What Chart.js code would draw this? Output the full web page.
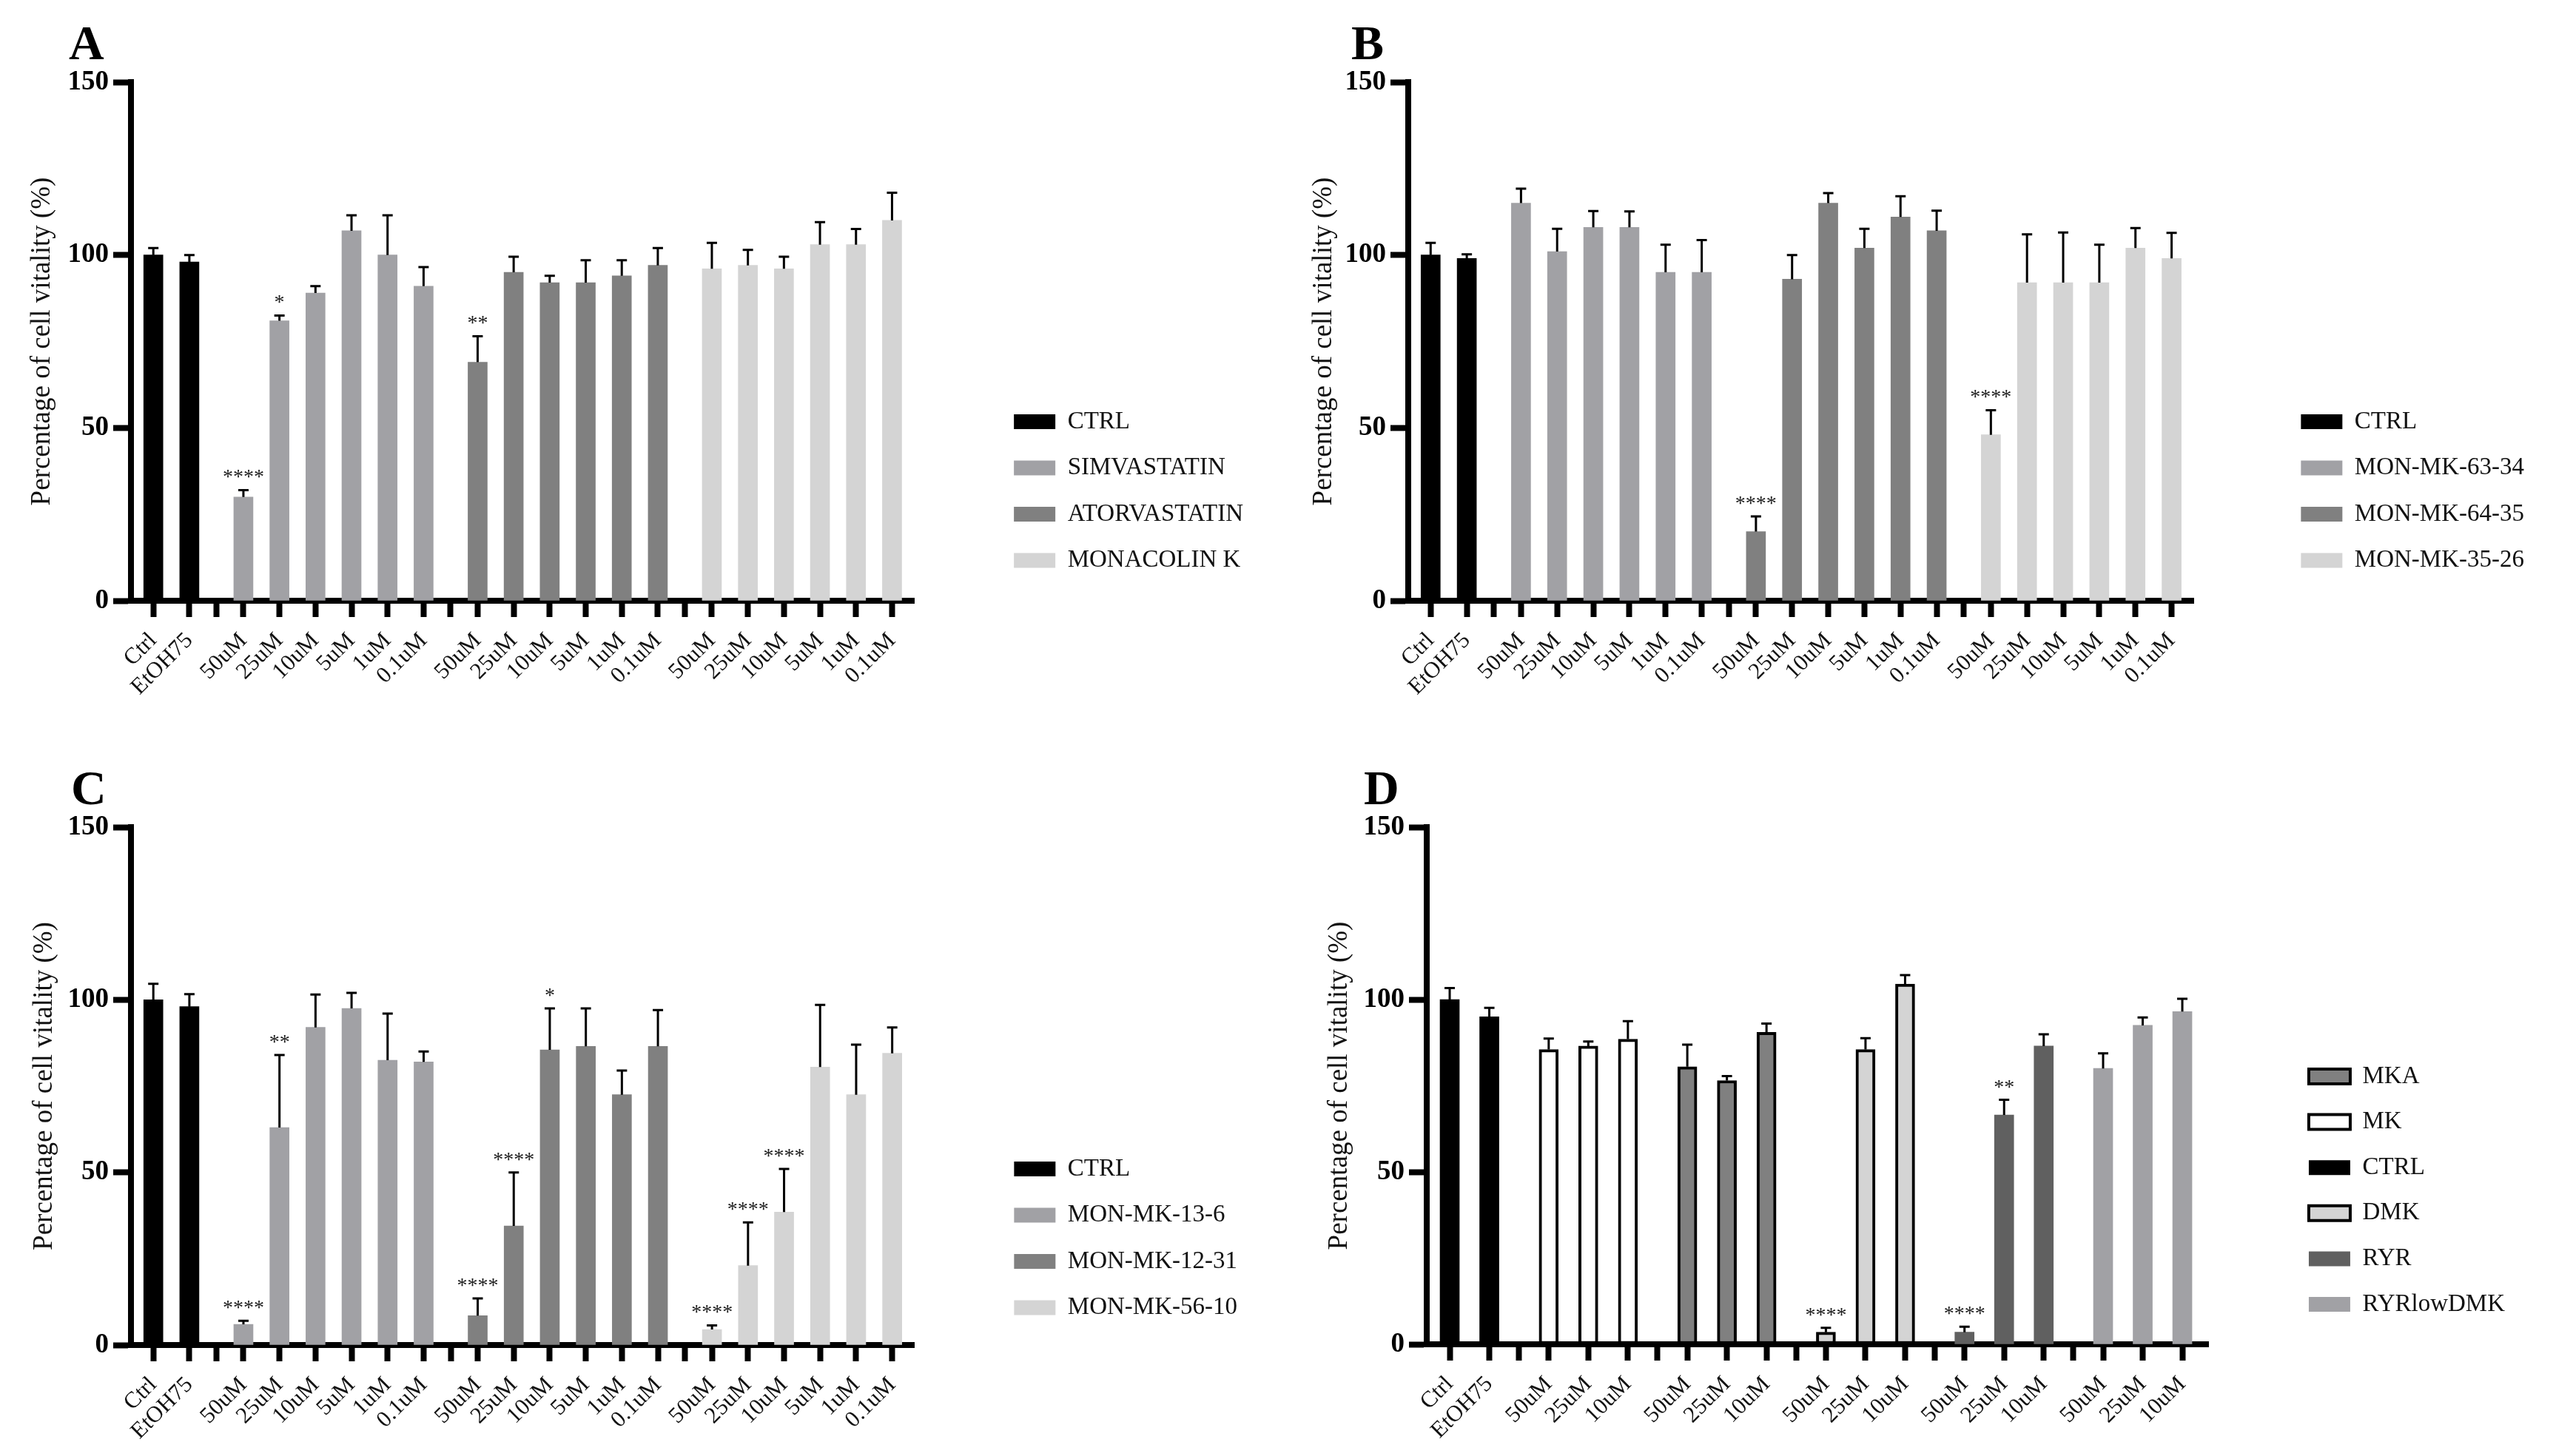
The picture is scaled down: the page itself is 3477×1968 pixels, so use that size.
<!DOCTYPE html>
<html>
<head>
<meta charset="utf-8">
<script src="https://cdn.jsdelivr.net/npm/chart.js@4.4.1/dist/chart.umd.min.js"></script>
<style>
  html, body { margin: 0; padding: 0; background: #ffffff; }
  body { width: 3477px; height: 1968px; position: relative; overflow: hidden; }
  canvas { position: absolute; display: block; }
</style>
</head>
<body>
<canvas id="cA" width="1738" height="984" style="left:0px;top:0px"></canvas>
<canvas id="cB" width="1739" height="984" style="left:1738px;top:0px"></canvas>
<canvas id="cC" width="1738" height="984" style="left:0px;top:984px"></canvas>
<canvas id="cD" width="1739" height="984" style="left:1738px;top:984px"></canvas>
<script>
// ---------------- DATA ----------------
const yTicks = [0, 50, 100, 150];
const yTitle = 'Percentage of cell vitality (%)';

// Panel A
const catsA = ['Ctrl', 'EtOH75', '', '50uM', '25uM', '10uM', '5uM', '1uM', '0.1uM', '', '50uM', '25uM', '10uM', '5uM', '1uM', '0.1uM', '', '50uM', '25uM', '10uM', '5uM', '1uM', '0.1uM'];
const namesA = ['CTRL', 'SIMVASTATIN', 'ATORVASTATIN', 'MONACOLIN K'];
const ctrlA = [100, 98];                     const ctrlErrA = [2, 2];                        const ctrlSigA = ['', ''];
const simvaA = [30, 81, 89, 107, 100, 91];   const simvaErrA = [2, 1.5, 2, 4.5, 11.5, 5.5];  const simvaSigA = ['****', '*', '', '', '', ''];
const atorA = [69, 95, 92, 92, 94, 97];      const atorErrA = [7.5, 4.5, 2, 6.5, 4.5, 5];    const atorSigA = ['**', '', '', '', '', ''];
const monaA = [96, 97, 96, 103, 103, 110];   const monaErrA = [7.5, 4.5, 3.5, 6.5, 4.5, 8];  const monaSigA = ['', '', '', '', '', ''];

// Panel B
const catsB = catsA;
const namesB = ['CTRL', 'MON-MK-63-34', 'MON-MK-64-35', 'MON-MK-35-26'];
const ctrlB = [100, 99];                      const ctrlErrB = [3.5, 1.2];                       const ctrlSigB = ['', ''];
const mk6334B = [115, 101, 108, 108, 95, 95]; const mk6334ErrB = [4.2, 6.6, 4.7, 4.6, 8, 9.3];   const mk6334SigB = ['', '', '', '', '', ''];
const mk6435B = [20, 93, 115, 102, 111, 107]; const mk6435ErrB = [4.4, 7, 2.9, 5.6, 6, 5.8];     const mk6435SigB = ['****', '', '', '', '', ''];
const mk3526B = [48, 92, 92, 92, 102, 99];    const mk3526ErrB = [7.1, 14, 14.5, 11, 5.8, 7.4];  const mk3526SigB = ['****', '', '', '', '', ''];

// Panel C
const catsC = catsA;
const namesC = ['CTRL', 'MON-MK-13-6', 'MON-MK-12-31', 'MON-MK-56-10'];
const ctrlC = [100, 98];                            const ctrlErrC = [4.6, 3.6];                         const ctrlSigC = ['', ''];
const mk136C = [6, 63, 92, 97.5, 82.5, 82];         const mk136ErrC = [1, 21, 9.5, 4.5, 13.5, 3];        const mk136SigC = ['****', '**', '', '', '', ''];
const mk1231C = [8.5, 34.5, 85.5, 86.5, 72.5, 86.5]; const mk1231ErrC = [5, 15.5, 12, 11, 7, 10.5];      const mk1231SigC = ['****', '****', '*', '', '', ''];
const mk5610C = [4.5, 23, 38.5, 80.5, 72.5, 84.5];  const mk5610ErrC = [1.2, 12.5, 12.5, 18, 14.5, 7.5]; const mk5610SigC = ['****', '****', '****', '', '', ''];

// Panel D
const catsD = ['Ctrl', 'EtOH75', '', '50uM', '25uM', '10uM', '', '50uM', '25uM', '10uM', '', '50uM', '25uM', '10uM', '', '50uM', '25uM', '10uM', '', '50uM', '25uM', '10uM'];
const namesD = ['CTRL', 'MK', 'MKA', 'DMK', 'RYR', 'RYRlowDMK'];          // order along the axis
const legendD = ['MKA', 'MK', 'CTRL', 'DMK', 'RYR', 'RYRlowDMK'];        // order in the legend
const ctrlD = [100, 95];          const ctrlErrD = [3.3, 2.6];       const ctrlSigD = ['', ''];
const mkD = [85.5, 86.5, 88.5];   const mkErrD = [3.2, 1.3, 5.2];    const mkSigD = ['', '', ''];
const mkaD = [80.5, 76.5, 90.5];  const mkaErrD = [6.4, 1.3, 2.5];   const mkaSigD = ['', '', ''];
const dmkD = [3.5, 85.5, 104.5];  const dmkErrD = [1.3, 3.3, 2.6];   const dmkSigD = ['****', '', ''];
const ryrD = [3.5, 66.5, 86.5];   const ryrErrD = [1.6, 4.4, 3.4];   const ryrSigD = ['****', '**', ''];
const ryrLowD = [80, 92.5, 96.5]; const ryrLowErrD = [4.4, 2.3, 3.7]; const ryrLowSigD = ['', '', ''];

// ---------------- STYLE ----------------
const SERIF = '"Liberation Serif", "Times New Roman", serif';
const LEG_FONT = 33, LEG_BOX = 56;
const COL = {
  CTRL: { bg: '#000000', bd: '#000000', bw: 0 },
  SIMVASTATIN: { bg: '#a1a1a5', bd: '#a1a1a5', bw: 0 },
  ATORVASTATIN: { bg: '#808080', bd: '#808080', bw: 0 },
  'MONACOLIN K': { bg: '#d4d4d4', bd: '#d4d4d4', bw: 0 },
  'MON-MK-63-34': { bg: '#a1a1a5', bd: '#a1a1a5', bw: 0 },
  'MON-MK-64-35': { bg: '#808080', bd: '#808080', bw: 0 },
  'MON-MK-35-26': { bg: '#d4d4d4', bd: '#d4d4d4', bw: 0 },
  'MON-MK-13-6': { bg: '#a1a1a5', bd: '#a1a1a5', bw: 0 },
  'MON-MK-12-31': { bg: '#808080', bd: '#808080', bw: 0 },
  'MON-MK-56-10': { bg: '#d4d4d4', bd: '#d4d4d4', bw: 0 },
  MK: { bg: '#ffffff', bd: '#000000', bw: 4 },
  MKA: { bg: '#808080', bd: '#000000', bw: 4 },
  DMK: { bg: '#d4d4d4', bd: '#000000', bw: 4 },
  RYR: { bg: '#606060', bd: '#606060', bw: 0 },
  RYRlowDMK: { bg: '#a1a1a5', bd: '#a1a1a5', bw: 0 }
};

// x position of each category; an empty entry is a half-width gap with its own tick
function xPositions(cats) {
  const out = [];
  let x = -1, gap = false;
  cats.forEach(c => {
    if (c === '') { out.push(x + 0.75); gap = true; }
    else { x += gap ? 1.5 : 1; gap = false; out.push(x); }
  });
  return out;
}

const measureCtx = document.createElement('canvas').getContext('2d');
function legendWidth(labels, pad) {
  measureCtx.font = LEG_FONT + 'px ' + SERIF;
  const w = Math.max(...labels.map(t => measureCtx.measureText(t).width));
  return Math.ceil(pad + LEG_BOX + LEG_FONT / 2 + w + 10) + 2;
}

const errorBarPlugin = {
  id: 'errorBars',
  afterDatasetsDraw(chart, args, opts) {
    const ctx = chart.ctx;
    const ys = chart.scales.y;
    chart.data.datasets.forEach((ds, di) => {
      const meta = chart.getDatasetMeta(di);
      if (meta.hidden) return;
      meta.data.forEach((bar, i) => {
        const v = ds.data[i].y;
        const top = ys.getPixelForValue(v + ds.errors[i]);
        ctx.save();
        ctx.strokeStyle = '#000';
        ctx.lineWidth = opts.lineWidth;
        ctx.beginPath();
        ctx.moveTo(bar.x, bar.y);
        ctx.lineTo(bar.x, top);
        ctx.moveTo(bar.x - opts.cap / 2, top);
        ctx.lineTo(bar.x + opts.cap / 2, top);
        ctx.stroke();
        if (ds.sig[i]) {
          ctx.fillStyle = '#1a1a1a';
          ctx.font = opts.sigSize + 'px ' + SERIF;
          ctx.textAlign = 'center';
          ctx.textBaseline = 'alphabetic';
          ctx.fillText(ds.sig[i], bar.x, top - opts.sigGap);
        }
        ctx.restore();
      });
    });
  }
};

const letterPlugin = {
  id: 'panelLetter',
  afterDraw(chart, args, opts) {
    const ctx = chart.ctx;
    ctx.save();
    ctx.fillStyle = '#000';
    ctx.font = 'bold 66px ' + SERIF;
    ctx.textAlign = 'left';
    ctx.textBaseline = 'alphabetic';
    ctx.fillText(opts.text, opts.x, opts.y);
    ctx.restore();
  }
};

function makePanel(p) {
  const xs = xPositions(p.cats);
  const realX = xs.filter((x, i) => p.cats[i] !== '');
  let k = 0;
  const groups = {};
  p.order.forEach(g => {
    const vals = p.series[g].values;
    groups[g] = realX.slice(k, k + vals.length);
    k += vals.length;
  });
  const datasets = p.legend.map(g => {
    const s = p.series[g];
    const c = COL[g];
    return {
      label: g,
      data: s.values.map((v, i) => ({ x: groups[g][i], y: v })),
      errors: s.errors,
      sig: s.sig,
      backgroundColor: c.bg,
      borderColor: c.bd,
      borderWidth: c.bw,
      borderSkipped: false,
      grouped: false,
      barThickness: 26
    };
  });
  const lastX = realX[realX.length - 1];
  const L = p.L;
  const rowPad = L.rowGap - LEG_FONT;
  const legW = legendWidth(p.legend, rowPad);
  // vertical start of the legend column (top of first row) below the chart-area top
  const titleH = (L.firstRow - LEG_FONT / 2) - L.top - rowPad;
  new Chart(document.getElementById(p.id), {
    type: 'bar',
    data: { datasets },
    plugins: [errorBarPlugin, letterPlugin],
    options: {
      responsive: false,
      animation: false,
      devicePixelRatio: 1,
      layout: { padding: { left: 0, top: L.top, right: p.W - L.right - L.gap - legW, bottom: 0 } },
      scales: {
        x: {
          type: 'linear',
          min: -L.padL,
          max: lastX + L.padR,
          offset: false,
          z: 1,
          grid: { display: true, drawOnChartArea: false, drawTicks: true, tickLength: 22, tickWidth: 8, tickColor: '#000', offset: false },
          border: { display: true, width: 8, color: '#000' },
          afterBuildTicks: s => { s.ticks = xs.map(v => ({ value: v })); },
          ticks: {
            autoSkip: false, maxRotation: 45, minRotation: 45, padding: 14,
            font: { family: SERIF, size: 31 }, color: '#111',
            callback: (v, i) => p.cats[i]
          },
          afterFit: s => { s.height = p.H - L.bottom; }
        },
        y: {
          min: 0, max: 150,
          z: 1,
          afterBuildTicks: s => { s.ticks = yTicks.map(v => ({ value: v })); },
          grid: { display: true, drawOnChartArea: false, drawTicks: true, tickLength: 24, tickWidth: 8, tickColor: '#000' },
          border: { display: true, width: 8, color: '#000' },
          ticks: { font: { family: SERIF, size: 37, weight: 'bold' }, color: '#000', padding: 6 },
          title: { display: true, text: yTitle, font: { family: SERIF, size: 37 }, color: '#111', padding: { top: L.titlePad, bottom: 0 } },
          afterFit: s => { s.width = L.left; }
        },
        gap: {
          type: 'linear', position: 'right', display: true,
          grid: { display: false, drawTicks: false }, border: { display: false },
          ticks: { display: false },
          afterFit: s => { s.width = L.gap; }
        }
      },
      plugins: {
        legend: {
          position: 'right', align: 'start', fullSize: false, maxWidth: legW,
          title: { display: true, text: '', font: { size: 10, lineHeight: 1 }, padding: { top: titleH - 10, bottom: 0 } },
          labels: { boxWidth: LEG_BOX, boxHeight: 20, padding: rowPad, color: '#111', font: { family: SERIF, size: LEG_FONT } }
        },
        tooltip: { enabled: false },
        errorBars: { lineWidth: 3, cap: 14, sigSize: 28, sigGap: 9 },
        panelLetter: p.letter
      }
    }
  });
}

function ser(values, errors, sig) { return { values, errors, sig }; }

makePanel({
  id: 'cA', W: 1738, H: 984, cats: catsA, order: namesA, legend: namesA,
  series: { CTRL: ser(ctrlA, ctrlErrA, ctrlSigA), SIMVASTATIN: ser(simvaA, simvaErrA, simvaSigA), ATORVASTATIN: ser(atorA, atorErrA, atorSigA), 'MONACOLIN K': ser(monaA, monaErrA, monaSigA) },
  L: { left: 177, top: 111, bottom: 812, right: 1233, gap: 105, padL: 0.62, padR: 0.62, titlePad: 35, firstRow: 570, rowGap: 62.5 },
  letter: { text: 'A', x: 93, y: 80 }
});
makePanel({
  id: 'cB', W: 1739, H: 984, cats: catsB, order: namesB, legend: namesB,
  series: { CTRL: ser(ctrlB, ctrlErrB, ctrlSigB), 'MON-MK-63-34': ser(mk6334B, mk6334ErrB, mk6334SigB), 'MON-MK-64-35': ser(mk6435B, mk6435ErrB, mk6435SigB), 'MON-MK-35-26': ser(mk3526B, mk3526ErrB, mk3526SigB) },
  L: { left: 165, top: 111, bottom: 812, right: 1224, gap: 115, padL: 0.62, padR: 0.62, titlePad: 29, firstRow: 570, rowGap: 62.5 },
  letter: { text: 'B', x: 88, y: 80 }
});
makePanel({
  id: 'cC', W: 1738, H: 984, cats: catsC, order: namesC, legend: namesC,
  series: { CTRL: ser(ctrlC, ctrlErrC, ctrlSigC), 'MON-MK-13-6': ser(mk136C, mk136ErrC, mk136SigC), 'MON-MK-12-31': ser(mk1231C, mk1231ErrC, mk1231SigC), 'MON-MK-56-10': ser(mk5610C, mk5610ErrC, mk5610SigC) },
  L: { left: 177, top: 134, bottom: 834, right: 1233, gap: 105, padL: 0.62, padR: 0.62, titlePad: 38, firstRow: 596, rowGap: 62.5 },
  letter: { text: 'C', x: 96, y: 103 }
});
makePanel({
  id: 'cD', W: 1739, H: 984, cats: catsD, order: namesD, legend: legendD,
  series: { CTRL: ser(ctrlD, ctrlErrD, ctrlSigD), MK: ser(mkD, mkErrD, mkSigD), MKA: ser(mkaD, mkaErrD, mkaSigD), DMK: ser(dmkD, dmkErrD, dmkSigD), RYR: ser(ryrD, ryrErrD, ryrSigD), RYRlowDMK: ser(ryrLowD, ryrLowErrD, ryrLowSigD) },
  L: { left: 190, top: 134, bottom: 833, right: 1244, gap: 107, padL: 0.58, padR: 0.66, titlePad: 50, firstRow: 471, rowGap: 61.6 },
  letter: { text: 'D', x: 105, y: 103 }
});
</script>
</body>
</html>
